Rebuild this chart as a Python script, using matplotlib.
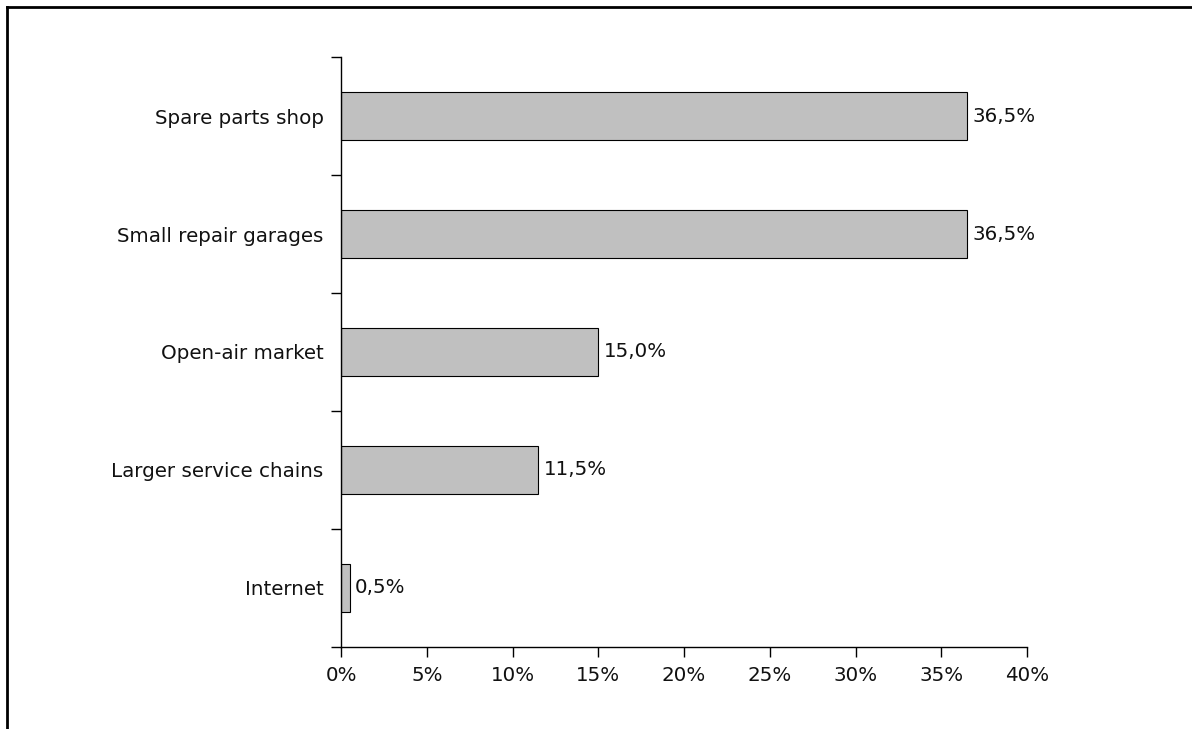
import matplotlib.pyplot as plt
from matplotlib.lines import Line2D
from matplotlib.ticker import FuncFormatter, FixedLocator, NullFormatter

# %%
channels = ['Internet', 'Larger service chains', 'Open-air market',
            'Small repair garages', 'Spare parts shop']
shares = [0.5, 11.5, 15.0, 36.5, 36.5]

# %%
plt.rcParams['font.family'] = ['DejaVu Sans']
fs = 14.3

fig = plt.figure(figsize=(11.92, 7.29), dpi=100)
ax = fig.add_axes([0.2861, 0.1125, 0.5755, 0.8093])

y = range(len(channels))
bars = ax.barh(y, shares, height=0.4, color='#c0c0c0',
               edgecolor='black', linewidth=0.8)

for yi, v in zip(y, shares):
    ax.annotate(f'{v:.1f}%'.replace('.', ','), (v, yi),
                xytext=(4, 0), textcoords='offset points',
                va='center', ha='left', fontsize=fs, color='#111111')

ax.set_xlim(0, 40)
ax.set_ylim(-0.5, len(channels) - 0.5)
ax.set_xticks(range(0, 41, 5))
ax.xaxis.set_major_formatter(FuncFormatter(lambda v, p: f'{v:.0f}%'))

# category labels centered, tick marks on the boundaries
ax.set_yticks(list(y))
ax.set_yticklabels(channels)
ax.tick_params(axis='y', which='major', length=0, pad=12.5,
               labelsize=fs, labelcolor='#111111')
ax.yaxis.set_minor_locator(FixedLocator([i - 0.5 for i in range(len(channels) + 1)]))
ax.yaxis.set_minor_formatter(NullFormatter())
ax.tick_params(axis='y', which='minor', length=7, width=1)
ax.tick_params(axis='x', length=7, width=1, labelsize=fs, pad=7,
               labelcolor='#111111')

for s in ['top', 'right']:
    ax.spines[s].set_visible(False)
for s in ['left', 'bottom']:
    ax.spines[s].set_linewidth(1)

# outer frame, top and left only
fig.add_artist(Line2D([7 / 1192, 1], [1 - 7 / 729] * 2, color='black', lw=2))
fig.add_artist(Line2D([7 / 1192] * 2, [0, 1 - 7 / 729], color='black', lw=2))

fig.savefig('out.png', dpi=100)
